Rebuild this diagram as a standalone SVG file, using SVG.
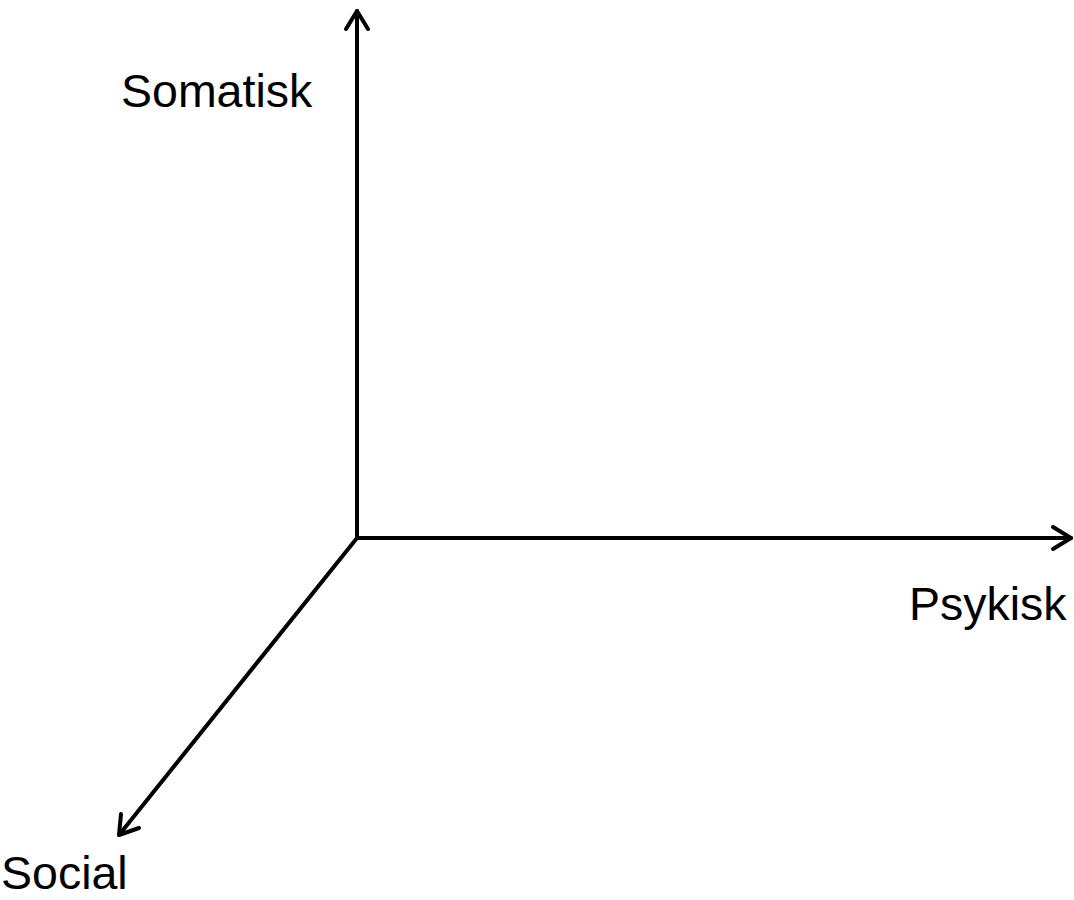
<svg xmlns="http://www.w3.org/2000/svg" width="1074" height="900" viewBox="0 0 1074 900">
<style>
.ax{stroke:#000;stroke-width:4;fill:none;stroke-linecap:round;stroke-linejoin:round}
.lb{font-family:"Liberation Sans",Arial,sans-serif;font-size:46.5px;fill:#000}
</style>
<rect width="1074" height="900" fill="#fff"/>
<g id="connectors">
<line class="ax" x1="357" y1="538" x2="357" y2="11"/>
<polyline class="ax" points="346,29 357,11 368,29"/>
<line class="ax" x1="357" y1="538" x2="1071" y2="538"/>
<polyline class="ax" points="1053,527 1071,538 1053,549"/>
<line class="ax" x1="357" y1="538" x2="119" y2="835"/>
<polyline class="ax" points="121,814 119,835 139,828"/>
</g>
<g id="somatisk"><text class="lb" x="121" y="107">Somatisk</text></g>
<g id="psykisk"><text class="lb" x="909" y="620">Psykisk</text></g>
<g id="social"><text class="lb" x="1" y="889">Social</text></g>
</svg>
